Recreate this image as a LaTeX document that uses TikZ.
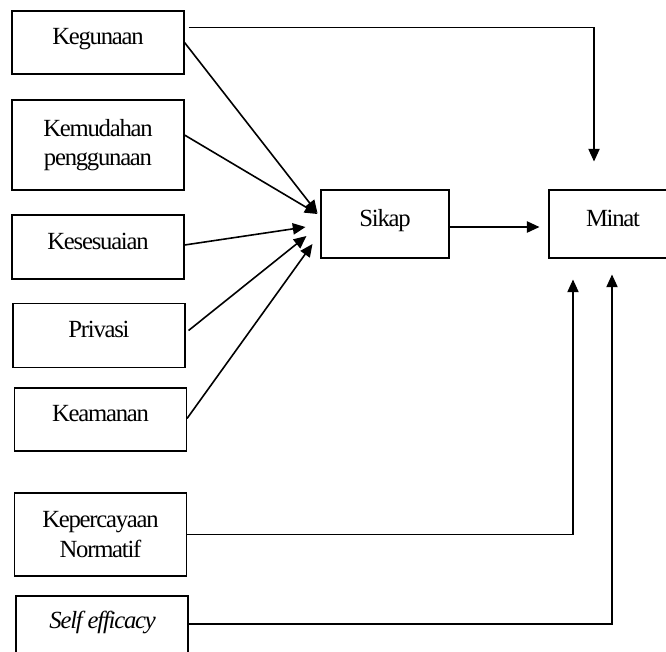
\documentclass[tikz,border=0pt]{standalone}
\usepackage{fontspec}
\setmainfont{Liberation Serif}[LetterSpace=-5]
\usepackage{tikz}
\usetikzlibrary{arrows.meta}
\tikzset{
    box_node/.style = {rectangle, draw=black, align=center, inner sep=0pt, line width=0.8pt, font=\fontsize{18.5}{22}\selectfont},
    one_line/.style = {text height=12.6pt, text depth=9pt},
    var_node/.style = {box_node, minimum width=129pt},
    mid_node/.style = {box_node, one_line, minimum width=96pt, minimum height=51pt},
    thin_arrow/.style = {->, line width=0.8pt},
    thick_arrow/.style = {->, line width=1.2pt}
}

\begin{document}
\begin{tikzpicture}
    [x=0.75pt, y=-0.75pt,
    >={Triangle[length=9.5pt,width=8.5pt]}]

    \useasboundingbox (0,0) rectangle (666,651);
    \clip (0,0) rectangle (666,651);

    \node (keg) [var_node, one_line, minimum height=47.25pt] at (98,42.5) {Kegunaan};
    \node (kem) [var_node, minimum height=67.5pt] at (98,145) {Kemudahan\\penggunaan};
    \node (kes) [var_node, one_line, minimum height=48pt] at (98,247) {Kesesuaian};
    \node (pri) [var_node, one_line, minimum height=48pt] at (99,335.5) {Privasi};
    \node (kea) [var_node, one_line, minimum height=47.25pt] at (100.5,419.5) {Keamanan};
    \node (kep) [var_node, minimum height=62.25pt] at (100.5,534.5) {Kepercayaan\\Normatif};
    \node (self) [var_node, one_line, minimum height=45pt] at (102,626) {\textit{Self efficacy}};
    \node (sikap) [mid_node] at (385,224) {Sikap};
    \node (minat) [mid_node] at (613,224) {Minat};

    \draw [thick_arrow] (keg.east) -- ([shift={(-3,-11)}]sikap.west);
    \draw [thick_arrow] ([shift={(0,-10)}]kem.east) -- ([shift={(-3,-10)}]sikap.west);
    \draw [thick_arrow] ([shift={(0,-2)}]kes.east) -- ([shift={(-15,3)}]sikap.west);
    \draw [thick_arrow] ([shift={(3,-5)}]pri.east) -- ([shift={(-14,12)}]sikap.west);
    \draw [thick_arrow] ([shift={(0,-1)}]kea.east) -- ([shift={(-8,20)}]sikap.west);

    \draw [thick_arrow] ([shift={(0,3)}]sikap.east) -- ([shift={(-9,3)}]minat.west);

    \draw [thin_arrow] ([shift={(4,-15)}]keg.east) -| ([shift={(-19,-28)}]minat.north);
    \draw [thin_arrow] (kep.east) -| ([shift={(-40,21)}]minat.south);
    \draw [thin_arrow] ([shift={(0,-2)}]self.east) -| ([shift={(-1,16)}]minat.south);
\end{tikzpicture}
\end{document}
